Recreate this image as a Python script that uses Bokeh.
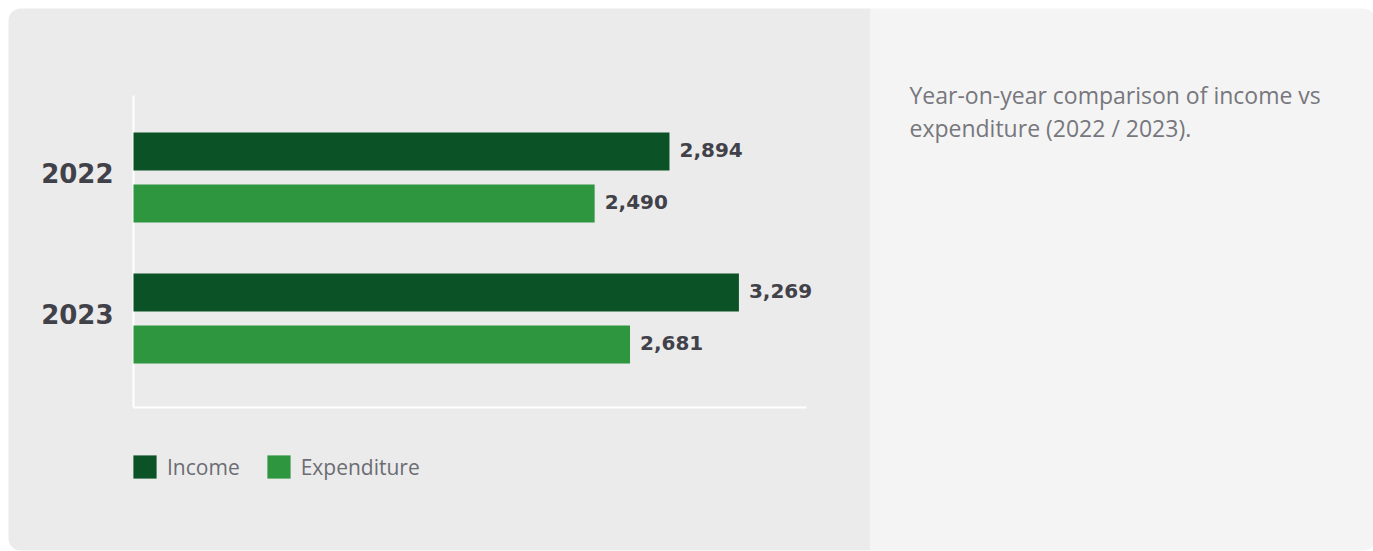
from bokeh.plotting import figure
from bokeh.models import ColumnDataSource, Range1d, Legend, LegendItem, BoxAnnotation
from bokeh.transform import dodge
from bokeh.core.properties import value
from bokeh.embed import file_html
from bokeh.resources import INLINE

years = ["2022", "2023"]
income = [2894, 3269]
expenditure = [2490, 2681]
series = ["Income", "Expenditure"]
caption_lines = ["Year-on-year comparison of income vs", "expenditure (2022 / 2023)."]
x_axis_max = 3634          # end of the value axis

DARK = "#0b5327"
LIGHT = "#2e963f"
TEXT = "#414149"
BG_L = "#ebebeb"
BG_R = "#f4f4f4"

W, H = 1373, 551
# layout: pixel position of value 0 / first category and pixel scale
X0, SX = 133, 0.1852       # px, px per unit
Y0, SY = 177, 141          # px, px per category step
dx = lambda px: (px - X0) / SX
dy = lambda py: (py - Y0) / SY

idx = list(range(len(years)))
src = ColumnDataSource(dict(
    idx=idx, years=years,
    income=income, expenditure=expenditure,
    inc_lbl=[f"{v:,}" for v in income],
    exp_lbl=[f"{v:,}" for v in expenditure],
))

p = figure(width=W, height=H, output_backend="svg", toolbar_location=None,
           x_range=Range1d(dx(0), dx(W)), y_range=Range1d(dy(H), dy(0)),
           x_axis_type=None, y_axis_type=None, min_border=0,
           background_fill_color="white", border_fill_color="white", outline_line_color=None)
p.grid.visible = False

# card panels
p.add_layout(BoxAnnotation(left=dx(8), right=dx(870), top=dy(8), bottom=dy(550),
                           fill_color=BG_L, fill_alpha=1, line_color=None,
                           border_radius=(12, 0, 0, 12), level="underlay"))
p.add_layout(BoxAnnotation(left=dx(870), right=dx(1375), top=dy(8), bottom=dy(550),
                           fill_color=BG_R, fill_alpha=1, line_color=None,
                           border_radius=(0, 12, 12, 0), level="underlay"))

# axis lines
y_lo, y_hi = dy(95), dy(407)
p.segment(x0=[0, 0], y0=[y_lo, y_hi], x1=[0, x_axis_max], y1=[y_hi, y_hi],
          line_color="white", line_width=2)

off = 0.1844
bh = 0.2695
r_inc = p.hbar(y=dodge("idx", -off, range=p.y_range), right="income", left=0, height=bh,
               source=src, fill_color=DARK, line_color=None)
r_exp = p.hbar(y=dodge("idx", off, range=p.y_range), right="expenditure", left=0, height=bh,
               source=src, fill_color=LIGHT, line_color=None)

for col, lbl, o in (("income", "inc_lbl", -off), ("expenditure", "exp_lbl", off)):
    p.text(x=col, y=dodge("idx", o, range=p.y_range), text=lbl, source=src,
           x_offset=10, y_offset=-1.5, text_baseline="middle", text_align="left",
           text_font=value("DejaVu Sans"), text_font_style="bold",
           text_font_size="20px", text_color=TEXT)

# category labels
p.text(x=0, y="idx", text="years", source=src, x_offset=-20, y_offset=-4.5,
       text_baseline="middle", text_align="right",
       text_font=value("DejaVu Sans"), text_font_style="bold",
       text_font_size="26px", text_color=TEXT)

legend = Legend(items=[LegendItem(label=series[0], renderers=[r_inc]),
                       LegendItem(label=series[1], renderers=[r_exp])],
                orientation="horizontal", location=(X0 - 3, H - 481),
                glyph_width=29, glyph_height=29, label_standoff=8, spacing=24,
                padding=0, margin=0,
                label_text_font="Open Sans", label_text_font_size="21px",
                label_text_color="#6c6c74",
                background_fill_alpha=0, border_line_alpha=0)
p.add_layout(legend, "center")

# caption
cap = ColumnDataSource(dict(x=[dx(909)] * len(caption_lines),
                            y=[dy(94), dy(127)], t=caption_lines))
p.text(x="x", y="y", text="t", source=cap, text_baseline="alphabetic", text_align="left",
       text_font=value("Open Sans"), text_font_size="23px", text_color="#77777d")

open("out.html", "w").write(file_html(p, INLINE))
